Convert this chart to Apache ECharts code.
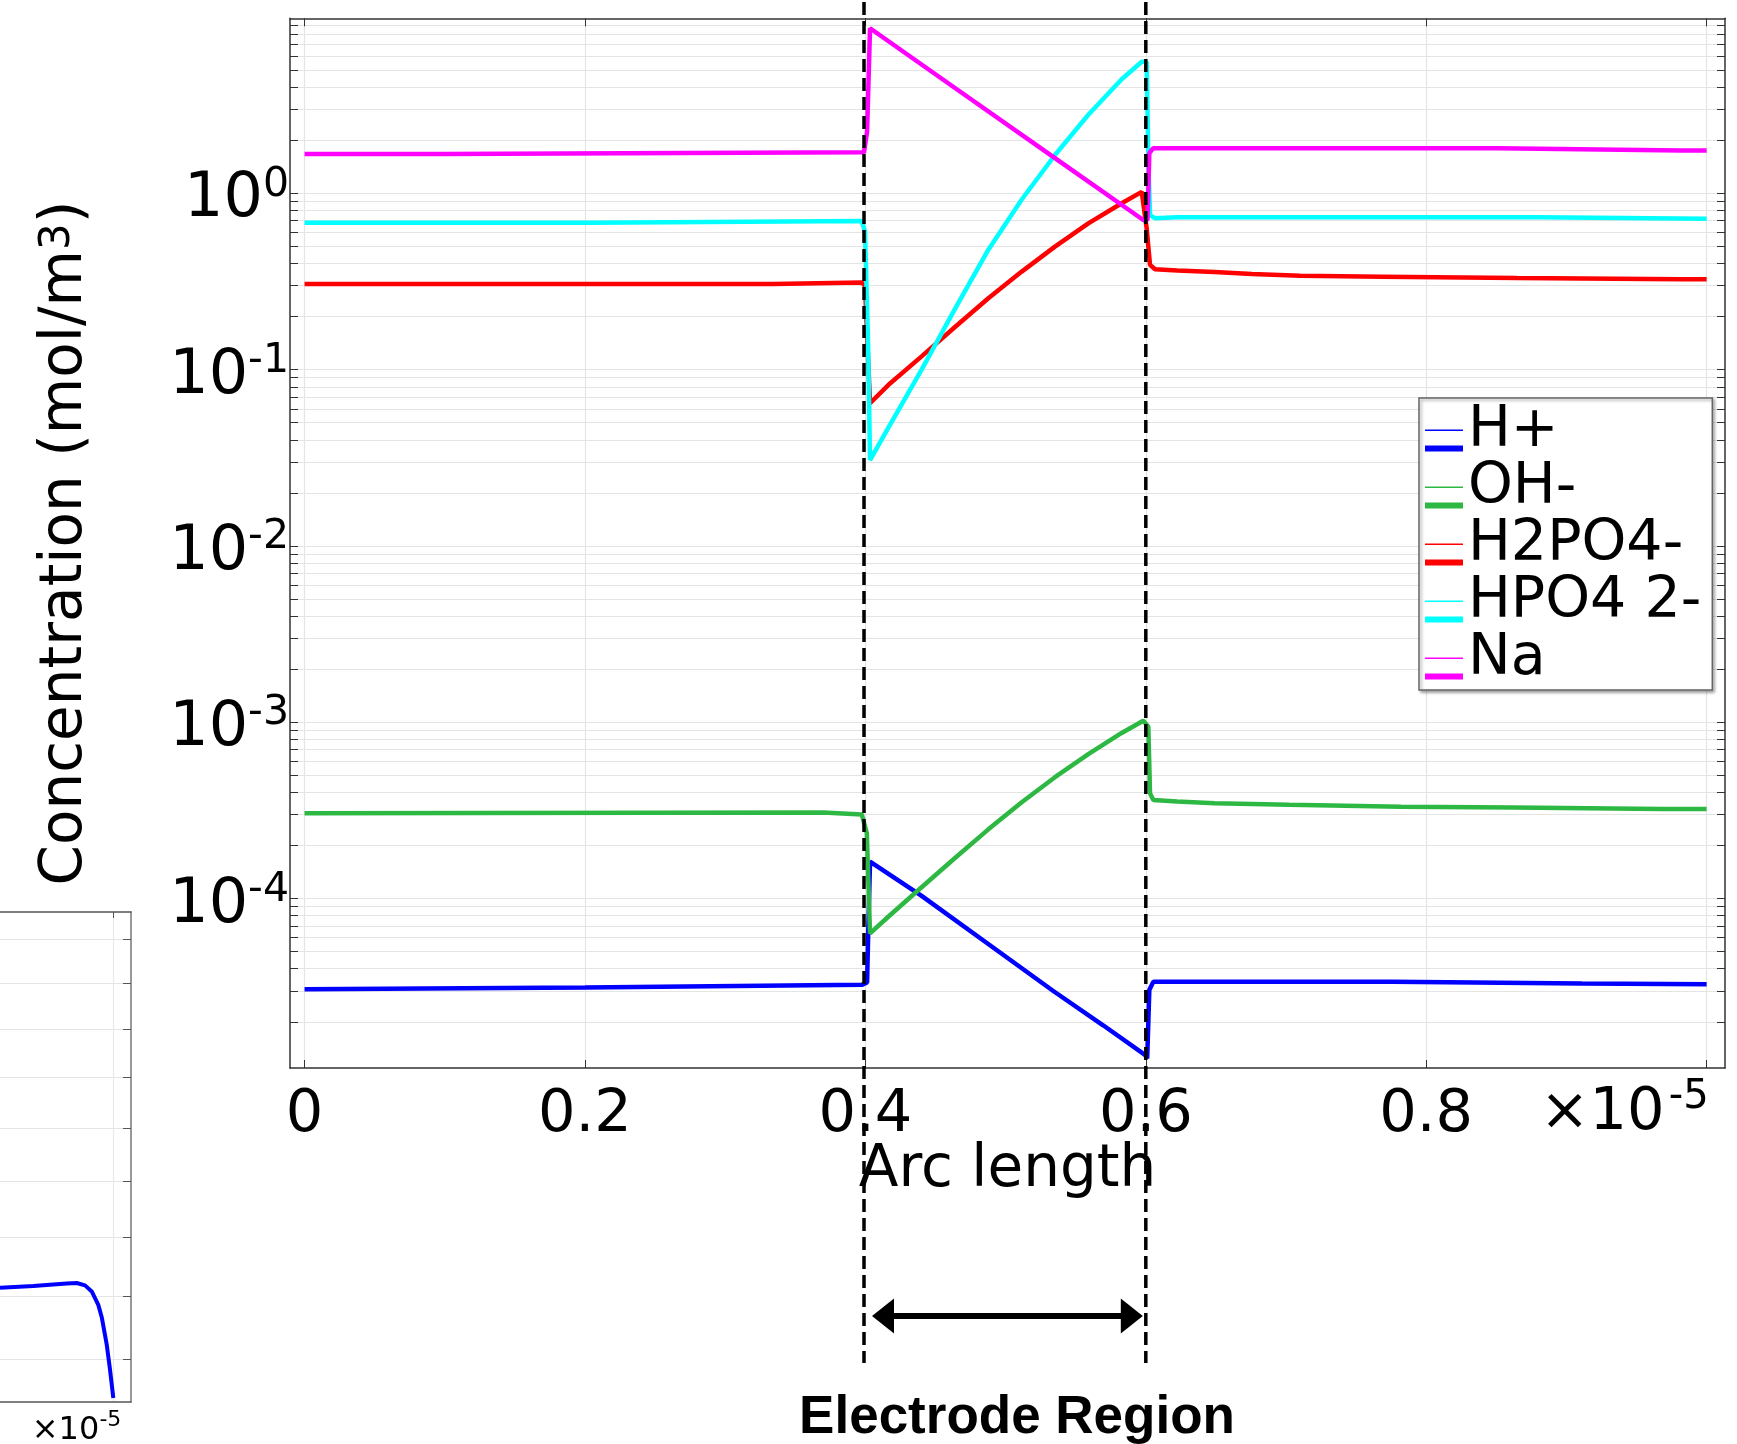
<!DOCTYPE html>
<html>
<head>
<meta charset="utf-8">
<script src="https://cdn.jsdelivr.net/npm/echarts@6/dist/echarts.min.js"></script>
<style>
    html, body { margin: 0; padding: 0; background: #fff; }
    #chart { width: 1737px; height: 1444px; }
</style>
</head>
<body>
<div id="chart"></div>
<script>
// 物种名称与颜色 (legend order)
var speciesNames = ['H+', 'OH-', 'H2PO4-', 'HPO4 2-', 'Na'];
var speciesColors = ['#0000ff', '#2db843', '#ff0000', '#00ffff', '#ff00ff'];

// arc length in units of 1e-5, concentration in mol/m3
var hX = [0, 0.2, 0.3974, 0.4012, 0.4020, 0.4033, 0.4401, 0.4854, 0.534, 0.5698, 0.5994, 0.6010, 0.6025, 0.6054, 0.776, 0.777, 0.911, 0.912, 1.0];
var hC = [3.06e-5, 3.13e-5, 3.24e-5, 3.34e-5, 6.35e-5, 1.62e-4, 1.035e-4, 5.69e-5, 2.99e-5, 1.905e-5, 1.30e-5, 1.24e-5, 3.03e-5, 3.38e-5, 3.38e-5, 3.30e-5, 3.30e-5, 3.27e-5, 3.27e-5];

var ohX = [0, 0.37, 0.3974, 0.4010, 0.4033, 0.4163, 0.4401, 0.4639, 0.4877, 0.5115, 0.5352, 0.559, 0.5828, 0.5982, 0.6018, 0.603, 0.6054, 0.6223, 0.649, 0.7023, 0.782, 0.862, 0.9685, 1.0];
var ohC = [3.05e-4, 3.08e-4, 3.00e-4, 2.35e-4, 6.35e-5, 7.89e-5, 1.16e-4, 1.70e-4, 2.47e-4, 3.52e-4, 4.88e-4, 6.60e-4, 8.70e-4, 1.02e-3, 9.44e-4, 3.95e-4, 3.62e-4, 3.55e-4, 3.47e-4, 3.40e-4, 3.32e-4, 3.28e-4, 3.22e-4, 3.22e-4];

var h2po4X = [0, 0.334, 0.335, 0.3974, 0.3997, 0.4033, 0.4163, 0.4401, 0.4639, 0.4877, 0.5115, 0.5352, 0.559, 0.5828, 0.5971, 0.6006, 0.603, 0.6066, 0.6225, 0.649, 0.6757, 0.710, 0.769, 0.8647, 0.9818, 1.0];
var h2po4C = [0.306, 0.306, 0.312, 0.312, 0.300, 0.0645, 0.0818, 0.119, 0.1746, 0.254, 0.360, 0.499, 0.676, 0.879, 1.02, 0.634, 0.393, 0.371, 0.365, 0.358, 0.349, 0.341, 0.337, 0.331, 0.326, 0.326];

var hpo4X = [0, 0.205, 0.206, 0.3974, 0.3997, 0.4020, 0.4033, 0.4163, 0.4401, 0.4639, 0.4877, 0.5115, 0.5352, 0.559, 0.5828, 0.5971, 0.6006, 0.6018, 0.603, 0.6065, 0.6223, 0.879, 0.880, 1.0];
var hpo4C = [0.682, 0.682, 0.697, 0.697, 0.607, 0.132, 0.0307, 0.0468, 0.100, 0.221, 0.479, 0.923, 1.65, 2.79, 4.44, 5.58, 5.58, 1.58, 0.753, 0.723, 0.731, 0.731, 0.719, 0.719];

var naX = [0, 0.0987, 0.0990, 0.3990, 0.4012, 0.4033, 0.4639, 0.5352, 0.5982, 0.6012, 0.6025, 0.6052, 0.8514, 0.852, 0.9818, 1.0];
var naC = [1.673, 1.673, 1.709, 1.709, 2.24, 8.64, 3.96, 1.585, 0.706, 0.706, 1.69, 1.80, 1.80, 1.78, 1.75, 1.75];

// cropped neighbouring panel (bottom left)
var insetX = [0.8257, 0.8769, 0.9283, 0.9437, 0.9565, 0.9668, 0.9769, 0.9822, 0.9898, 0.9949, 1.0];
var insetV = [17.14, 17.17, 17.21, 17.22, 17.18, 17.08, 16.86, 16.66, 16.23, 15.84, 15.41];
var insetGridValues = [16, 17, 18, 19, 20, 21, 22, 23, 24];

// ticks
var xTicks = [0, 0.2, 0.4, 0.6, 0.8, 1.0];
var xLabels = [0, 0.2, 0.4, 0.6, 0.8];
var yDecades = [-5, -4, -3, -2, -1, 0];
var yMantissas = [1, 2, 3, 4, 5, 6, 7, 8, 9];
var yLabelExps = [-4, -3, -2, -1, 0];
var electrodeEdges = [0.399, 0.6];

var font = 'DejaVu Sans';
var yMin = -4.961, yMax = 0.993;   // log10 range

var yTickVals = [];
yDecades.forEach(function (d) {
    yMantissas.forEach(function (m) {
        var v = d + Math.log10(m);
        if (v >= yMin && v <= yMax) yTickVals.push(v);
    });
});

function toLog(xs, cs) {
    return xs.map(function (x, i) { return [x, Math.log10(cs[i])]; });
}
var allX = [hX, ohX, h2po4X, hpo4X, naX];
var allC = [hC, ohC, h2po4C, hpo4C, naC];

var chart = echarts.init(document.getElementById('chart'));

var series = speciesNames.map(function (name, i) {
    return {
        name: name,
        type: 'line',
        xAxisIndex: 0,
        yAxisIndex: 0,
        data: toLog(allX[i], allC[i]),
        symbol: 'none',
        color: speciesColors[i],
        lineStyle: { width: 4.5, color: speciesColors[i] },
        z: 3 + i
    };
});
series.push({
    name: 'inset',
    type: 'line',
    xAxisIndex: 2,
    yAxisIndex: 2,
    data: insetX.map(function (x, i) { return [x, Math.log10(insetV[i])]; }),
    symbol: 'none',
    lineStyle: { width: 4, color: '#0000ff' }
});

var axisLineStyle = { color: '#333', width: 1.5 };
var gridLineStyle = { color: '#e4e4e4', width: 1.2 };

var option = {
    animation: false,
    backgroundColor: '#fff',
    grid: [
        { left: 290, top: 18.3, width: 1435, height: 1049.7, outerBoundsMode: 'none' },
        { left: 0, top: 912, width: 131, height: 490, outerBoundsMode: 'none' }
    ],
    legend: {
        data: speciesNames,
        orient: 'vertical',
        left: 1419,
        top: 398,
        padding: [5, 11, 2, 6],
        itemGap: 0,
        itemWidth: 38,
        itemHeight: 40,
        icon: 'path://M0,-18H0.01V-17.99H0Z M0,0H38V1.5H0Z M0,16H38V22H0Z',
        textStyle: { fontSize: 57, lineHeight: 57, fontFamily: font, color: '#000' },
        backgroundColor: '#fff',
        borderColor: '#666',
        borderWidth: 1.5,
        shadowColor: 'rgba(0,0,0,0.35)',
        shadowBlur: 3,
        shadowOffsetX: 2,
        shadowOffsetY: 2,
        selectedMode: false
    },
    xAxis: [
        {
            type: 'value', gridIndex: 0, position: 'bottom',
            min: -0.0104, max: 1.0131,
            axisLine: { show: true, onZero: false, lineStyle: axisLineStyle },
            axisTick: { show: true, inside: true, length: 8, customValues: xTicks, lineStyle: { color: '#333' } },
            axisLabel: {
                customValues: xLabels, fontSize: 59, fontFamily: font, color: '#000', margin: 18,
                formatter: function (v) { return String(v); }
            },
            splitLine: { show: true, lineStyle: gridLineStyle },
            name: 'Arc length', nameLocation: 'middle', nameGap: 74, nameMoveOverlap: false,
            nameTextStyle: { fontSize: 58, fontFamily: font, color: '#000' }
        },
        {
            type: 'value', gridIndex: 0, position: 'top',
            min: -0.0104, max: 1.0131,
            axisLine: { show: true, onZero: false, lineStyle: axisLineStyle },
            axisTick: { show: true, inside: true, length: 8, customValues: xTicks, lineStyle: { color: '#333' } },
            axisLabel: { show: false },
            splitLine: { show: false }
        },
        {
            type: 'value', gridIndex: 1, position: 'bottom',
            min: 0.8257, max: 1.0272,
            axisLine: { show: true, onZero: false, lineStyle: { color: '#555', width: 1.5 } },
            axisTick: { show: false, customValues: [1.0] },
            axisLabel: { show: false },
            splitLine: { show: true, lineStyle: { color: '#e8e8e8', width: 1.2 } }
        },
        {
            type: 'value', gridIndex: 1, position: 'top',
            min: 0.8257, max: 1.0272,
            axisLine: { show: true, onZero: false, lineStyle: { color: '#555', width: 1.5 } },
            axisTick: { show: true, inside: true, length: 6, customValues: [1.0], lineStyle: { color: '#555' } },
            axisLabel: { show: false },
            splitLine: { show: false }
        }
    ],
    yAxis: [
        {
            type: 'value', gridIndex: 0, position: 'left',
            min: yMin, max: yMax,
            axisLine: { show: true, onZero: false, lineStyle: axisLineStyle },
            axisTick: { show: true, inside: true, length: 8, customValues: yTickVals, lineStyle: { color: '#333' } },
            axisLabel: {
                customValues: yLabelExps, margin: 1, padding: [9, 0, 0, 0],
                formatter: function (v) { return '{m|10}{s|' + Math.round(v) + '}'; },
                rich: {
                    m: { fontSize: 62, fontFamily: font, color: '#000', lineHeight: 67, verticalAlign: 'bottom' },
                    s: { fontSize: 41, fontFamily: font, color: '#000', lineHeight: 30, verticalAlign: 'top' }
                }
            },
            splitLine: { show: true, lineStyle: gridLineStyle },
            name: 'Concentration (mol/m{s|3})', nameLocation: 'middle', nameGap: 195, nameMoveOverlap: false,
            nameTextStyle: {
                fontSize: 58, fontFamily: font, color: '#000',
                rich: { s: { fontSize: 42, fontFamily: font, color: '#000', verticalAlign: 'top', lineHeight: 30 } }
            }
        },
        {
            type: 'value', gridIndex: 0, position: 'right',
            min: yMin, max: yMax,
            axisLine: { show: true, onZero: false, lineStyle: axisLineStyle },
            axisTick: { show: true, inside: true, length: 8, customValues: yTickVals, lineStyle: { color: '#333' } },
            axisLabel: { show: false },
            splitLine: { show: false }
        },
        {
            type: 'value', gridIndex: 1, position: 'right',
            min: Math.log10(15.35), max: Math.log10(24.64),
            axisLine: { show: true, onZero: false, lineStyle: { color: '#777', width: 1.5 } },
            axisTick: {
                show: true, inside: true, length: 8, lineStyle: { color: '#555' },
                customValues: insetGridValues.map(function (v) { return Math.log10(v); })
            },
            axisLabel: { show: false },
            splitLine: { show: true, lineStyle: { color: '#e4e4e4', width: 1.2 } }
        }
    ],
    series: series
};
chart.setOption(option);

// 电极区域标注 (dashed edges, arrow, captions)
var px0 = chart.convertToPixel({ xAxisIndex: 0 }, electrodeEdges[0]);
var px1 = chart.convertToPixel({ xAxisIndex: 0 }, electrodeEdges[1]);
var pxEnd = chart.convertToPixel({ xAxisIndex: 0 }, 1.0);
var pxInsetEnd = chart.convertToPixel({ xAxisIndex: 2 }, 1.0);
var arrowY = 1316;

function textItem(x, y, text, size, align, vAlign) {
    return {
        type: 'text', z: 100, x: x, y: y,
        style: {
            text: text, fontSize: size, fontFamily: font, fill: '#000',
            textAlign: align, textVerticalAlign: vAlign
        }
    };
}

chart.setOption({
    graphic: [
        {
            type: 'line', z: 100,
            shape: { x1: px0, y1: 2, x2: px0, y2: 1363 },
            style: { stroke: '#000', lineWidth: 3.5, lineDash: [13, 6] }
        },
        {
            type: 'line', z: 100,
            shape: { x1: px1, y1: 2, x2: px1, y2: 1363 },
            style: { stroke: '#000', lineWidth: 3.5, lineDash: [13, 6] }
        },
        {
            type: 'line', z: 100,
            shape: { x1: px0 + 24, y1: arrowY, x2: px1 - 20, y2: arrowY },
            style: { stroke: '#000', lineWidth: 6 }
        },
        {
            type: 'polygon', z: 100,
            shape: { points: [[px0 + 8, arrowY], [px0 + 30, arrowY - 17.5], [px0 + 30, arrowY + 17.5]] },
            style: { fill: '#000' }
        },
        {
            type: 'polygon', z: 100,
            shape: { points: [[px1 - 3, arrowY], [px1 - 25, arrowY - 17.5], [px1 - 25, arrowY + 17.5]] },
            style: { fill: '#000' }
        },
        {
            type: 'text', z: 100,
            x: 1017, y: 1418,
            style: {
                text: 'Electrode Region',
                font: 'bold 53px "Liberation Sans", Arial, sans-serif',
                fill: '#000', textAlign: 'center', textVerticalAlign: 'middle'
            }
        },
        textItem(pxEnd - 42, 1114, '×10', 59, 'right', 'middle'),
        textItem(pxEnd + 2, 1098, '-5', 40, 'right', 'middle'),
        textItem(pxInsetEnd - 14, 1431, '×10', 32, 'right', 'middle'),
        textItem(pxInsetEnd + 8, 1420, '-5', 22, 'right', 'middle')
    ]
});
</script>
</body>
</html>
